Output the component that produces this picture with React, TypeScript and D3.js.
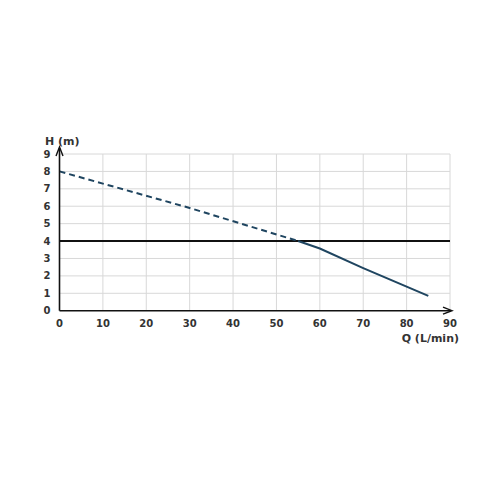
import React from "react";
import * as d3 from "d3";

const xTicks = [0, 10, 20, 30, 40, 50, 60, 70, 80, 90];
const yTicks = [0, 1, 2, 3, 4, 5, 6, 7, 8, 9];
const dashedQ = [0, 30, 55];
const dashedH = [8, 5.9, 4];
const solidQ = [55, 60, 70, 85];
const solidH = [4, 3.57, 2.45, 0.85];
const refH = 4;

export default function App() {
  const W = 500, H = 500;
  const x = d3.scaleLinear().domain([0, 90]).range([59.5, 450]);
  const y = d3.scaleLinear().domain([0, 9]).range([310.7, 154]);
  const line = d3.line<[number, number]>().x(d => x(d[0])).y(d => y(d[1]));
  const dashed = dashedQ.map((q, i) => [q, dashedH[i]] as [number, number]);
  const solid = solidQ.map((q, i) => [q, solidH[i]] as [number, number]);
  const font = "'DejaVu Sans', sans-serif";
  const col = "#1f4560";
  return (
    <svg width={W} height={H} style={{ position: "absolute", left: 0, top: 0 }}>
      <rect width={W} height={H} fill="#fff" />
      {xTicks.slice(1).map(t => (
        <line key={"gx" + t} x1={x(t)} x2={x(t)} y1={y(0)} y2={y(9)} stroke="#d8d8d8" strokeWidth={1} />
      ))}
      {yTicks.slice(1).map(t => (
        <line key={"gy" + t} x1={x(0)} x2={x(90)} y1={y(t)} y2={y(t)} stroke="#d8d8d8" strokeWidth={1} />
      ))}
      <line x1={x(0)} x2={x(90)} y1={y(refH)} y2={y(refH)} stroke="#111" strokeWidth={2} />
      <path d={line(dashed) || ""} fill="none" stroke={col} strokeWidth={2} strokeDasharray="6,4" />
      <path d={line(solid) || ""} fill="none" stroke={col} strokeWidth={2} />
      <line x1={x(0)} x2={x(0)} y1={y(0)} y2={y(9) - 6} stroke="#111" strokeWidth={1.6} />
      <path d={`M${x(0) - 3.5},${y(9) + 2} L${x(0)},${y(9) - 7} L${x(0) + 3.5},${y(9) + 2}`} fill="none" stroke="#111" strokeWidth={1.4} />
      <line x1={x(0)} x2={x(90) + 1} y1={y(0)} y2={y(0)} stroke="#111" strokeWidth={1.6} />
      <path d={`M${x(90) - 7},${y(0) - 3.5} L${x(90) + 2},${y(0)} L${x(90) - 7},${y(0) + 3.5}`} fill="none" stroke="#111" strokeWidth={1.4} />
      {yTicks.map(t => (
        <text key={"ty" + t} x={47} y={y(t)} dy="0.35em" textAnchor="middle" fontFamily={font} fontWeight="bold" fontSize={10} fill="#333">{t}</text>
      ))}
      {xTicks.map(t => (
        <text key={"tx" + t} x={x(t)} y={323} dy="0.35em" textAnchor="middle" fontFamily={font} fontWeight="bold" fontSize={10} fill="#333">{t}</text>
      ))}
      <text x={45} y={145} fontFamily={font} fontWeight="bold" fontSize={11} fill="#333">H (m)</text>
      <text x={459} y={338} dy="0.35em" textAnchor="end" fontFamily={font} fontWeight="bold" fontSize={11} fill="#333">Q (L/min)</text>
    </svg>
  );
}
